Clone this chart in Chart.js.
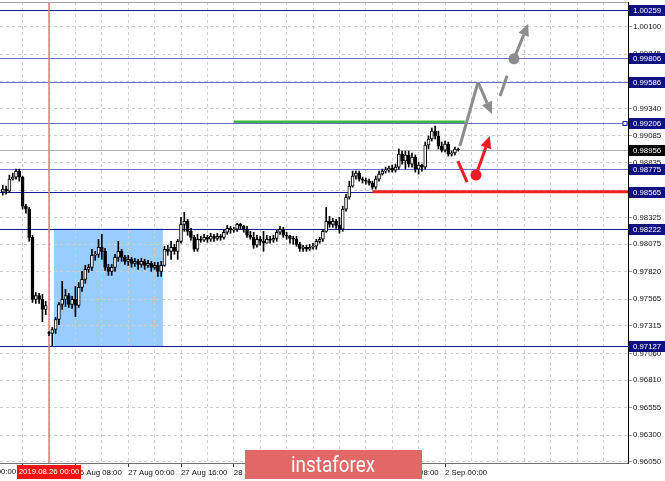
<!DOCTYPE html>
<html lang="en">
<head>
<meta charset="UTF-8" />
<title>USDCHF H1</title>
<script src="https://cdn.jsdelivr.net/npm/chart.js"></script>
<style>
  html, body { margin: 0; padding: 0; background: #fff; }
  canvas { display: block; }
</style>
</head>
<body>
<canvas id="chart" width="665" height="481"></canvas>

<script>
// H1 candles, x = hours from 2019.08.26 00:00 (weekend skipped)
const firstBar = -14;

const opens = [
  0.98560, 0.98588, 0.98569, 0.98682, 0.98701, 0.98756, 0.98701, 0.98430, 0.98402, 0.98140, 0.97562, 0.97599, 0.97562, 0.97469,
  0.97254, 0.97245, 0.97282, 0.97375, 0.97515, 0.97562, 0.97599, 0.97515, 0.97562, 0.97506,
  0.97674, 0.97749, 0.97842, 0.97861, 0.97973, 0.97982, 0.98048, 0.98010, 0.97861, 0.97823,
  0.97861, 0.97954, 0.98010, 0.97954, 0.97916, 0.97935, 0.97898, 0.97916, 0.97888, 0.97916,
  0.97879, 0.97898, 0.97861, 0.97879, 0.97823, 0.97879, 0.98029, 0.98010, 0.98048, 0.98010,
  0.98103, 0.98261, 0.98289, 0.98196, 0.98140, 0.98029, 0.98122, 0.98113, 0.98140, 0.98122,
  0.98150, 0.98131, 0.98150, 0.98140, 0.98187, 0.98224, 0.98206, 0.98215, 0.98261, 0.98243,
  0.98215, 0.98159, 0.98140, 0.98066, 0.98122, 0.98103, 0.98085, 0.98122, 0.98113, 0.98131,
  0.98187, 0.98215, 0.98159, 0.98150, 0.98131, 0.98122, 0.98075, 0.98038, 0.98048, 0.98029,
  0.98048, 0.98057, 0.98103, 0.98122, 0.98196, 0.98289, 0.98261, 0.98289, 0.98252, 0.98215,
  0.98402, 0.98513, 0.98617, 0.98710, 0.98738, 0.98682, 0.98673, 0.98663, 0.98645, 0.98607,
  0.98682, 0.98729, 0.98756, 0.98766, 0.98784, 0.98766, 0.98794, 0.98915, 0.98850, 0.98906,
  0.98822, 0.98887, 0.98775, 0.98812, 0.98794, 0.98999, 0.99055, 0.99129, 0.99083, 0.98990,
  0.98952, 0.99008, 0.98915, 0.98925, 0.98962
];
const highs = [
  0.98626, 0.98617, 0.98719, 0.98738, 0.98775, 0.98775, 0.98710, 0.98448, 0.98420, 0.98159, 0.97627, 0.97618, 0.97608, 0.97543,
  0.97263, 0.97301, 0.97394, 0.97534, 0.97730, 0.97655, 0.97618, 0.97590, 0.97683, 0.97721,
  0.97823, 0.97879, 0.97888, 0.98029, 0.98010, 0.98122, 0.98168, 0.98038, 0.97888, 0.97888,
  0.97982, 0.98103, 0.98029, 0.97973, 0.97973, 0.97954, 0.97944, 0.97935, 0.97944, 0.97935,
  0.97926, 0.97916, 0.97907, 0.97907, 0.97916, 0.98057, 0.98066, 0.98103, 0.98075, 0.98122,
  0.98327, 0.98374, 0.98308, 0.98224, 0.98159, 0.98168, 0.98150, 0.98168, 0.98159, 0.98178,
  0.98168, 0.98178, 0.98168, 0.98215, 0.98252, 0.98243, 0.98233, 0.98271, 0.98271, 0.98252,
  0.98243, 0.98196, 0.98187, 0.98159, 0.98150, 0.98196, 0.98159, 0.98150, 0.98159, 0.98206,
  0.98243, 0.98233, 0.98187, 0.98159, 0.98150, 0.98150, 0.98094, 0.98066, 0.98066, 0.98075,
  0.98085, 0.98122, 0.98140, 0.98215, 0.98420, 0.98336, 0.98317, 0.98308, 0.98327, 0.98430,
  0.98541, 0.98663, 0.98756, 0.98756, 0.98756, 0.98701, 0.98692, 0.98682, 0.98663, 0.98710,
  0.98756, 0.98775, 0.98794, 0.98803, 0.98812, 0.98822, 0.98962, 0.98943, 0.98943, 0.98943,
  0.98925, 0.98906, 0.98840, 0.98822, 0.99027, 0.99083, 0.99157, 0.99176, 0.99129, 0.99027,
  0.99036, 0.99027, 0.98943, 0.98980, 0.98971
];
const lows = [
  0.98532, 0.98541, 0.98560, 0.98673, 0.98682, 0.98663, 0.98402, 0.98365, 0.98103, 0.97534, 0.97525, 0.97525, 0.97356, 0.97422,
  0.97226, 0.97130, 0.97245, 0.97328, 0.97469, 0.97496, 0.97487, 0.97478, 0.97403, 0.97487,
  0.97636, 0.97712, 0.97814, 0.97833, 0.97926, 0.97954, 0.97935, 0.97833, 0.97786, 0.97786,
  0.97823, 0.97916, 0.97916, 0.97888, 0.97879, 0.97861, 0.97870, 0.97842, 0.97861, 0.97842,
  0.97861, 0.97823, 0.97842, 0.97777, 0.97777, 0.97870, 0.97973, 0.97935, 0.97982, 0.97935,
  0.98085, 0.98196, 0.98159, 0.98113, 0.98010, 0.98010, 0.98094, 0.98103, 0.98094, 0.98103,
  0.98103, 0.98113, 0.98113, 0.98122, 0.98168, 0.98178, 0.98187, 0.98196, 0.98215, 0.98187,
  0.98140, 0.98122, 0.98038, 0.98048, 0.98066, 0.98010, 0.98085, 0.98085, 0.98094, 0.98103,
  0.98168, 0.98140, 0.98122, 0.98085, 0.98075, 0.98057, 0.98010, 0.98010, 0.98010, 0.98019,
  0.98029, 0.98029, 0.98085, 0.98103, 0.98187, 0.98233, 0.98233, 0.98224, 0.98178, 0.98196,
  0.98383, 0.98495, 0.98607, 0.98682, 0.98663, 0.98645, 0.98635, 0.98626, 0.98588, 0.98588,
  0.98663, 0.98719, 0.98738, 0.98747, 0.98747, 0.98747, 0.98775, 0.98822, 0.98775, 0.98794,
  0.98794, 0.98747, 0.98729, 0.98756, 0.98775, 0.98962, 0.99036, 0.99055, 0.98962, 0.98934,
  0.98934, 0.98896, 0.98896, 0.98906, 0.98943
];
const closes = [
  0.98588, 0.98569, 0.98682, 0.98701, 0.98756, 0.98701, 0.98430, 0.98402, 0.98140, 0.97562, 0.97599, 0.97562, 0.97469, 0.97506,
  0.97245, 0.97282, 0.97375, 0.97515, 0.97562, 0.97599, 0.97515, 0.97562, 0.97506, 0.97674,
  0.97749, 0.97842, 0.97861, 0.97973, 0.97982, 0.98048, 0.98010, 0.97861, 0.97823, 0.97861,
  0.97954, 0.98010, 0.97954, 0.97916, 0.97935, 0.97898, 0.97916, 0.97888, 0.97916, 0.97879,
  0.97898, 0.97861, 0.97879, 0.97823, 0.97879, 0.98029, 0.98010, 0.98048, 0.98010, 0.98103,
  0.98261, 0.98289, 0.98196, 0.98140, 0.98029, 0.98122, 0.98113, 0.98140, 0.98122, 0.98150,
  0.98131, 0.98150, 0.98140, 0.98187, 0.98224, 0.98206, 0.98215, 0.98261, 0.98243, 0.98215,
  0.98159, 0.98140, 0.98066, 0.98122, 0.98103, 0.98085, 0.98122, 0.98113, 0.98131, 0.98187,
  0.98215, 0.98159, 0.98150, 0.98131, 0.98122, 0.98075, 0.98038, 0.98048, 0.98029, 0.98048,
  0.98057, 0.98103, 0.98122, 0.98196, 0.98289, 0.98261, 0.98289, 0.98252, 0.98215, 0.98402,
  0.98513, 0.98617, 0.98710, 0.98738, 0.98682, 0.98673, 0.98663, 0.98645, 0.98607, 0.98682,
  0.98729, 0.98756, 0.98766, 0.98784, 0.98766, 0.98794, 0.98915, 0.98850, 0.98906, 0.98822,
  0.98887, 0.98775, 0.98812, 0.98794, 0.98999, 0.99055, 0.99129, 0.99083, 0.98990, 0.98952,
  0.99008, 0.98915, 0.98925, 0.98962, 0.98956
];

// axes
const priceTicks = [0.96050, 0.96300, 0.96555, 0.96810, 0.97060, 0.97315, 0.97565, 0.97820, 0.98075,
  0.98325, 0.98580, 0.98835, 0.99085, 0.99340, 0.99590, 0.99845, 1.00100];
const gridBars = [-8, 0, 8, 16, 24, 32, 40, 48, 56, 64, 72, 80, 88, 96, 104, 112, 120, 128, 136, 144, 152, 160, 168];
const tickBars = [-24, -8, 8, 24, 40, 56, 72, 88, 104, 120];
const tickLabels = ['23 Aug 00:00', '23 Aug 16:00', '26 Aug 08:00', '27 Aug 00:00', '27 Aug 16:00',
  '28 Aug 08:00', '29 Aug 00:00', '29 Aug 16:00', '30 Aug 08:00', '2 Sep 00:00'];

// drawn objects
const levels = [1.00259, 0.99806, 0.99586, 0.99206, 0.98775, 0.98565, 0.98222, 0.97127];
const bidPrice = 0.98956;
const cursorBar = 0;
const cursorLabel = '2019.08.26 00:00';
const zoneBars = [1.5, 34.5];
const zonePrices = [0.97127, 0.98222];
const targetBars = [56, 126];
const targetPrice = 0.99215;
const stopBars = [98, 180];
const stopPrice = 0.98565;
const grayPath = [[124.5, 0.98990], [130, 0.99584], [134.2, 0.99288]];
const grayDash = [[136.7, 0.99456], [138.8, 0.99643]];
const grayDot = [140.9, 0.99801];
const grayTip = [145.2, 1.00128];
const redStroke = [[123.9, 0.98850], [126.7, 0.98654]];
const redDot = [129.4, 0.98719];
const redTip = [133.6, 0.99083];

const labelFont = '7.8px "Liberation Sans", Arial, sans-serif';
const lightLevels = [0.99806, 0.99586, 0.99206, 0.98775];

function pt(chart, p) {
  return [chart.scales.x.getPixelForValue(p[0]), chart.scales.y.getPixelForValue(p[1])];
}

function arrow(ctx, from, to, color) {
  const ang = Math.atan2(to[1] - from[1], to[0] - from[0]);
  const head = 12, half = 5.5;
  const bx = to[0] - head * Math.cos(ang), by = to[1] - head * Math.sin(ang);
  ctx.strokeStyle = color; ctx.fillStyle = color; ctx.lineWidth = 3;
  ctx.beginPath(); ctx.moveTo(from[0], from[1]); ctx.lineTo(bx, by); ctx.stroke();
  ctx.beginPath();
  ctx.moveTo(to[0], to[1]);
  ctx.lineTo(bx + half * Math.sin(ang), by - half * Math.cos(ang));
  ctx.lineTo(bx - half * Math.sin(ang), by + half * Math.cos(ang));
  ctx.closePath(); ctx.fill();
}

function dot(ctx, c, color) {
  ctx.fillStyle = color;
  ctx.beginPath(); ctx.arc(c[0], c[1], 5.5, 0, Math.PI * 2); ctx.fill();
}

const overlay = {
  id: 'overlay',
  beforeDraw(chart) {
    const { ctx, scales: { x, y } } = chart;
    const x1 = x.getPixelForValue(zoneBars[0]), x2 = x.getPixelForValue(zoneBars[1]);
    const y1 = y.getPixelForValue(zonePrices[1]), y2 = y.getPixelForValue(zonePrices[0]);
    ctx.save();
    ctx.fillStyle = '#99ccff';
    ctx.fillRect(x1, y1, x2 - x1, y2 - y1);
    ctx.restore();
  },
  beforeDatasetsDraw(chart) {
    const { ctx, chartArea: a, scales: { x, y } } = chart;
    ctx.save();
    ctx.beginPath(); ctx.rect(a.left, a.top, a.right - a.left, a.bottom - a.top); ctx.clip();
    ctx.lineWidth = 1;

    // bid line
    let py = Math.round(y.getPixelForValue(bidPrice)) + 0.5;
    ctx.strokeStyle = '#b4b4b4';
    ctx.beginPath(); ctx.moveTo(a.left, py); ctx.lineTo(a.right, py); ctx.stroke();

    levels.forEach(v => {
      py = Math.round(y.getPixelForValue(v)) + 0.5;
      ctx.strokeStyle = lightLevels.includes(v) ? '#6e6ecc' : '#1a1a9e';
      ctx.beginPath(); ctx.moveTo(a.left, py); ctx.lineTo(a.right, py); ctx.stroke();
    });

    // cursor line
    const cx = x.getPixelForValue(cursorBar);
    ctx.strokeStyle = '#f07878';
    ctx.lineWidth = 1.5;
    ctx.beginPath(); ctx.moveTo(cx, a.top); ctx.lineTo(cx, a.bottom); ctx.stroke();

    // top frame
    ctx.strokeStyle = '#a0a0a0'; ctx.lineWidth = 1;
    ctx.beginPath(); ctx.moveTo(a.left, a.top + 0.5); ctx.lineTo(a.right, a.top + 0.5); ctx.stroke();
    ctx.restore();
  },
  afterDatasetsDraw(chart) {
    const { ctx, chartArea: a, scales: { x, y } } = chart;
    ctx.save();
    ctx.beginPath(); ctx.rect(a.left, a.top, a.right - a.left, a.bottom - a.top); ctx.clip();
    ctx.lineCap = 'butt';

    // target and stop segments
    ctx.lineWidth = 2.5; ctx.strokeStyle = '#3cb93c';
    let py = y.getPixelForValue(targetPrice);
    ctx.beginPath(); ctx.moveTo(x.getPixelForValue(targetBars[0]), py); ctx.lineTo(x.getPixelForValue(targetBars[1]), py); ctx.stroke();
    ctx.lineWidth = 3; ctx.strokeStyle = '#ee2020';
    py = y.getPixelForValue(stopPrice);
    ctx.beginPath(); ctx.moveTo(x.getPixelForValue(stopBars[0]), py); ctx.lineTo(x.getPixelForValue(stopBars[1]), py); ctx.stroke();

    // gray scenario
    const gray = '#8c8c8c';
    const g = grayPath.map(p => pt(chart, p));
    ctx.strokeStyle = gray; ctx.lineWidth = 3;
    ctx.beginPath(); ctx.moveTo(g[0][0], g[0][1]); ctx.lineTo(g[1][0], g[1][1]); ctx.stroke();
    arrow(ctx, g[1], g[2], gray);
    const d = grayDash.map(p => pt(chart, p));
    ctx.strokeStyle = gray;
    ctx.beginPath(); ctx.moveTo(d[0][0], d[0][1]); ctx.lineTo(d[1][0], d[1][1]); ctx.stroke();
    const gd = pt(chart, grayDot);
    dot(ctx, gd, gray);
    arrow(ctx, gd, pt(chart, grayTip), gray);

    // red scenario
    const red = '#ee1c24';
    const r = redStroke.map(p => pt(chart, p));
    ctx.strokeStyle = red; ctx.lineWidth = 3;
    ctx.beginPath(); ctx.moveTo(r[0][0], r[0][1]); ctx.lineTo(r[1][0], r[1][1]); ctx.stroke();
    const rd = pt(chart, redDot);
    dot(ctx, rd, red);
    arrow(ctx, rd, pt(chart, redTip), red);

    // anchor square of the 0.99206 level
    py = Math.round(y.getPixelForValue(levels[3])) + 0.5;
    ctx.fillStyle = '#fff'; ctx.strokeStyle = '#1a1a9e'; ctx.lineWidth = 1;
    ctx.fillRect(a.right - 5, py - 2, 4, 4); ctx.strokeRect(a.right - 5, py - 2, 4, 4);
    ctx.restore();
  },
  afterDraw(chart) {
    const { ctx, chartArea: a, scales: { x, y }, width } = chart;
    ctx.save();
    ctx.font = labelFont;
    ctx.textBaseline = 'middle';

    // price boxes on the right scale
    const box = (v, bg) => {
      const py = Math.round(y.getPixelForValue(v));
      ctx.fillStyle = bg;
      ctx.fillRect(a.right + 1, py - 5, width - a.right - 1, 11);
      ctx.fillStyle = '#fff';
      ctx.fillText(v.toFixed(5), a.right + 5, py + 0.5);
    };
    levels.forEach(v => box(v, '#10107e'));
    box(bidPrice, '#000');

    // time labels left of the visible range
    ctx.fillStyle = '#111';
    ctx.textBaseline = 'top';
    tickBars.forEach((b, i) => {
      if (b < x.min) ctx.fillText(tickLabels[i], x.getPixelForValue(b), a.bottom + 5);
    });

    // cursor time box
    const cx = x.getPixelForValue(cursorBar);
    ctx.fillStyle = '#ff1010';
    ctx.fillRect(cx - 32, a.bottom + 2, 64, 14);
    ctx.fillStyle = '#fff';
    ctx.textAlign = 'center';
    ctx.fillText(cursorLabel, cx, a.bottom + 5);

    // watermark
    ctx.fillStyle = 'rgb(226,104,104)';
    ctx.fillRect(245, 450, 177, 29);
    ctx.fillStyle = '#fff';
    ctx.font = '22px Roboto, "Open Sans", sans-serif';
    ctx.textBaseline = 'alphabetic';
    const w = ctx.measureText('instaforex').width;
    ctx.translate(333, 472);
    ctx.scale(84 / w, 1);
    ctx.fillText('instaforex', 0, 0);
    ctx.restore();
  }
};

const wicks = opens.map((o, i) => ({ x: firstBar + i, y: [lows[i], highs[i]] }));
const bodies = opens.map((o, i) => ({ x: firstBar + i, y: [Math.min(o, closes[i]), Math.max(o, closes[i])] }));
const bodyColors = opens.map((o, i) => closes[i] >= o ? '#ffffff' : '#000000');

new Chart(document.getElementById('chart'), {
  type: 'bar',
  data: {
    datasets: [
      {
        data: bodies, grouped: false, order: 0,
        barThickness: 3, backgroundColor: bodyColors,
        borderColor: '#000', borderWidth: 1, borderSkipped: false
      },
      {
        data: wicks, grouped: false, order: 1,
        barThickness: 1, backgroundColor: '#000', borderWidth: 0
      }
    ]
  },
  options: {
    responsive: false,
    animation: false,
    events: [],
    layout: { autoPadding: false, padding: { top: 2, left: 0, right: 0, bottom: 0 } },
    plugins: { legend: { display: false }, tooltip: { enabled: false } },
    scales: {
      x: {
        type: 'linear', min: -14.85, max: 175.45, offset: false,
        afterBuildTicks: s => { s.ticks = gridBars.map(v => ({ value: v })); },
        afterFit: s => { s.height = 18; s.paddingLeft = 0; s.paddingRight = 0; },
        grid: {
          offset: false, color: '#cfcfcf', lineWidth: 1, tickLength: 4,
          tickColor: c => (c.tick && tickBars.includes(c.tick.value)) ? '#333' : 'rgba(0,0,0,0)'
        },
        border: { display: true, color: '#707070', dash: [3, 3] },
        ticks: {
          align: 'start', padding: 1, maxRotation: 0, autoSkip: false, color: '#111',
          font: { family: '"Liberation Sans", Arial, sans-serif', size: 7.8 },
          callback: v => { const i = tickBars.indexOf(v); return i < 0 ? '' : tickLabels[i]; }
        }
      },
      y: {
        position: 'right', min: 0.96040, max: 1.00330,
        afterBuildTicks: s => { s.ticks = priceTicks.map(v => ({ value: v })); },
        afterFit: s => { s.width = 37; s.paddingTop = 0; s.paddingBottom = 0; },
        grid: { color: '#cfcfcf', lineWidth: 1, tickLength: 4, tickColor: '#9a9a9a' },
        border: { display: true, color: '#000', dash: [3, 3] },
        ticks: {
          padding: 1, color: '#111', autoSkip: false,
          font: { family: '"Liberation Sans", Arial, sans-serif', size: 7.8 },
          callback: v => v.toFixed(5)
        }
      }
    }
  },
  plugins: [overlay]
});
</script>
</body>
</html>
